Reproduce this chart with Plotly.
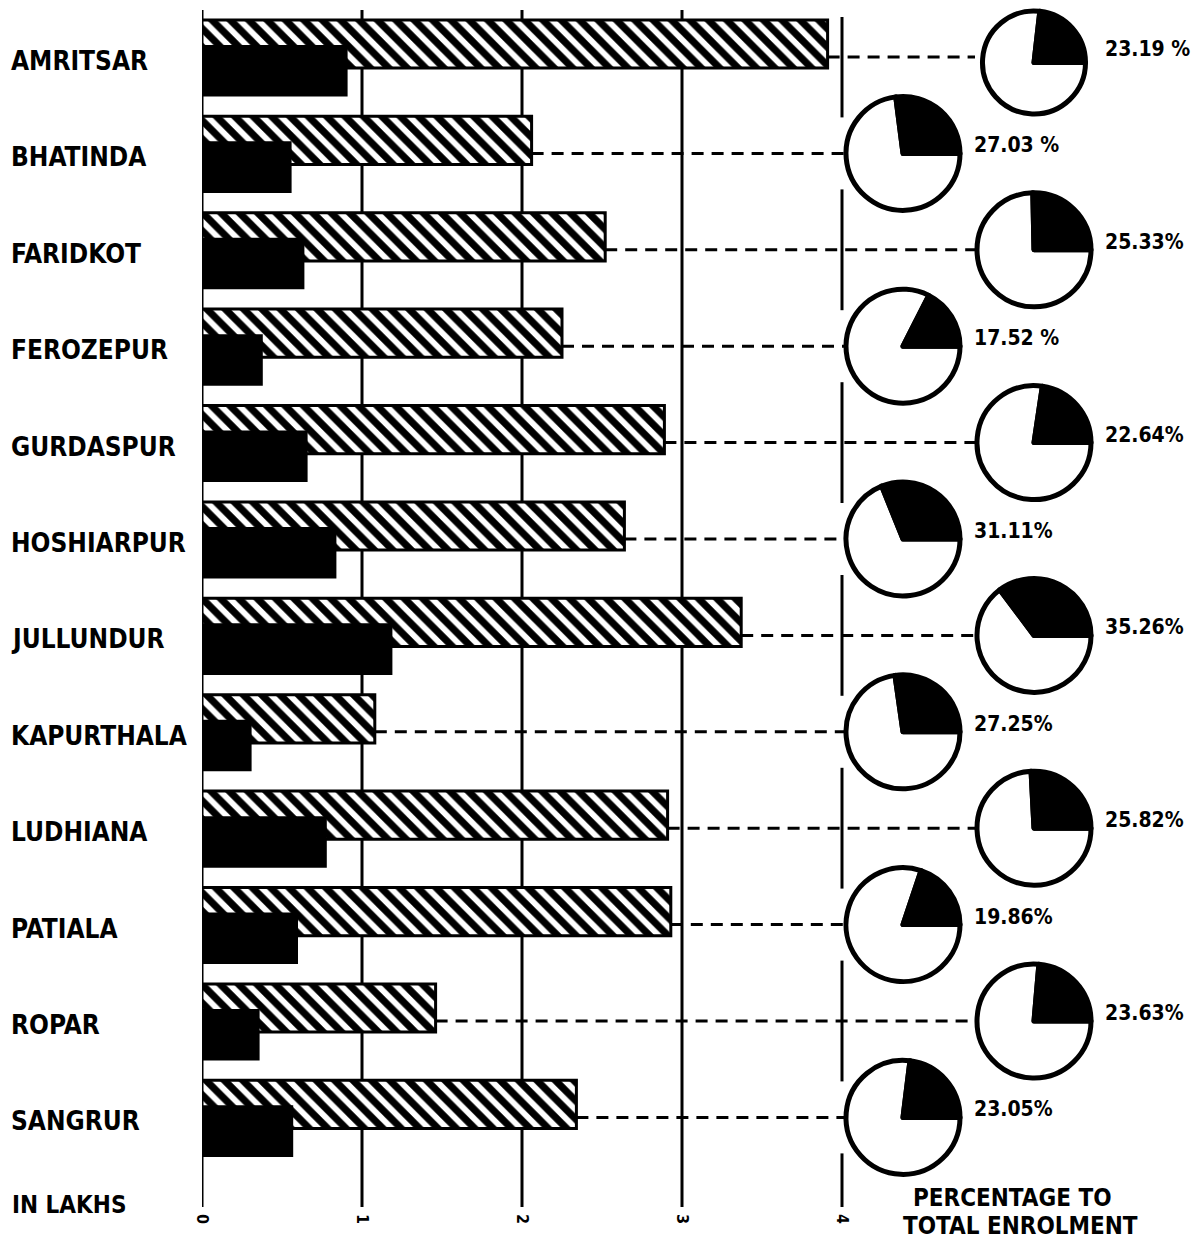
import plotly.graph_objects as go

# ---------------- data ----------------
districts = ["AMRITSAR", "BHATINDA", "FARIDKOT", "FEROZEPUR", "GURDASPUR", "HOSHIARPUR",
             "JULLUNDUR", "KAPURTHALA", "LUDHIANA", "PATIALA", "ROPAR", "SANGRUR"]
total_enrolment = [3.91, 2.06, 2.52, 2.25, 2.89, 2.64, 3.37, 1.08, 2.91, 2.93, 1.46, 2.34]
girls_enrolment = [0.91, 0.56, 0.64, 0.38, 0.66, 0.84, 1.19, 0.31, 0.78, 0.60, 0.36, 0.57]
percent_girls = [23.19, 27.03, 25.33, 17.52, 22.64, 31.11, 35.26, 27.25, 25.82, 19.86, 23.63, 23.05]
percent_text = ["23.19 %", "27.03 %", "25.33%", "17.52 %", "22.64%", "31.11%",
                "35.26%", "27.25%", "25.82%", "19.86%", "23.63%", "23.05%"]
tick_vals = [0, 1, 2, 3, 4]
tick_text = ["0", "1", "2", "3", "4"]
unit_label = "IN LAKHS"
pie_title = ["PERCENTAGE TO", "TOTAL ENROLMENT"]

# ---------------- layout constants (window px, page body has an 8px margin) ----------------
OFF = 8
W, H = 1201 - 2 * OFF, 1249 - 2 * OFF
FONT = "Liberation Sans Narrow, DejaVu Sans Condensed, Arial Narrow, sans-serif"
X0_PX, PX_PER_UNIT = 202, 160.0
TOP_PX, BOT_PX = 10, 1207
ROW0_PX, ROW_PX = 57, 96.4
y_top = -(ROW0_PX - TOP_PX) / ROW_PX
y_bot = y_top + (BOT_PX - TOP_PX) / ROW_PX
x_max = (W + OFF - X0_PX) / PX_PER_UNIT
PIE_R = 57
PIE_CX = [1034, 903]   # right column, left column
SAFE = 3               # keep pie outlines inside the figure


def fx(px):   # window px -> paper x
    return min(1.0, max(0.0, (px - OFF) / W))


def fy(py):   # window px -> paper y
    return min(1.0, max(0.0, 1 - (py - OFF) / H))


def row_px(i):
    return TOP_PX + (i - y_top) * ROW_PX


def px_to_x(px):
    return (px - X0_PX) / PX_PER_UNIT


fig = go.Figure()
n = len(districts)
rows = list(range(n))

# hatched bars (total enrolment)
fig.add_trace(go.Bar(
    y=rows, x=total_enrolment, orientation="h",
    offset=-0.385, width=0.50,
    marker=dict(color="white", line=dict(color="black", width=3),
                pattern=dict(shape="\\", fgcolor="black", bgcolor="white", fgopacity=1,
                             size=13, solidity=0.55)),
    hoverinfo="skip", showlegend=False))

# black bars (girls)
fig.add_trace(go.Bar(
    y=rows, x=girls_enrolment, orientation="h",
    offset=-0.125, width=0.535,
    marker=dict(color="black", line=dict(color="black", width=0)),
    hoverinfo="skip", showlegend=False))

# dashed connectors
dx, dy = [], []
for i in rows:
    cx = PIE_CX[i % 2]
    dx += [total_enrolment[i], px_to_x(cx - PIE_R - 2), None]
    dy += [i, i, None]
fig.add_trace(go.Scatter(x=dx, y=dy, mode="lines",
                         line=dict(color="black", width=3, dash="12px,8px"),
                         hoverinfo="skip", showlegend=False))

# pies: black share sweeps counter-clockwise from 3 o'clock
for i in rows:
    cx = PIE_CX[i % 2]
    cy = row_px(i)
    top = max(cy - PIE_R, OFF + SAFE)
    bot = cy + PIE_R
    half = (bot - top) / 2
    fig.add_trace(go.Pie(
        values=[100 - percent_girls[i], percent_girls[i]],
        sort=False, direction="clockwise", rotation=90,
        marker=dict(colors=["white", "black"], line=dict(color="black", width=5)),
        textinfo="none", hoverinfo="skip", showlegend=False,
        domain=dict(x=[fx(cx - half), fx(cx + half)],
                    y=[fy(bot), fy(top)])))

# vertical lines
shapes = []
for v in tick_vals[:-1]:
    shapes.append(dict(type="line", xref="x", yref="y", x0=v, x1=v, y0=y_top, y1=y_bot,
                       line=dict(color="black", width=3), layer="below"))
# last line broken around the left-column pies
gap = 36 / ROW_PX
segs = [y_top + 7 / ROW_PX]
for i in rows:
    if i % 2 == 1:
        segs += [i - gap, i + gap]
segs.append(y_bot)
for k in range(0, len(segs), 2):
    shapes.append(dict(type="line", xref="x", yref="y", x0=tick_vals[-1], x1=tick_vals[-1],
                       y0=segs[k], y1=segs[k + 1],
                       line=dict(color="black", width=3), layer="below"))

annotations = []
for i in rows:
    annotations.append(dict(x=fx(9), xref="paper", y=i, yref="y", yshift=-4,
                            text=districts[i], showarrow=False, xanchor="left",
                            font=dict(family=FONT, size=26, color="black", weight="bold")))
    cx = PIE_CX[i % 2]
    annotations.append(dict(x=fx(cx + PIE_R + 12), xref="paper", y=i, yref="y", yshift=8,
                            text=percent_text[i], showarrow=False, xanchor="left",
                            font=dict(family=FONT, size=21, color="black", weight="bold")))

annotations.append(dict(x=fx(10), xref="paper", y=fy(1205), yref="paper",
                        text=unit_label, showarrow=False, xanchor="left", yanchor="middle",
                        font=dict(family=FONT, size=24, color="black", weight="bold")))
annotations.append(dict(x=fx(1012), xref="paper", y=fy(1198), yref="paper",
                        text=pie_title[0], showarrow=False, xanchor="center", yanchor="middle",
                        font=dict(family=FONT, size=24, color="black", weight="bold")))
annotations.append(dict(x=fx(1020), xref="paper", y=fy(1226), yref="paper",
                        text=pie_title[1], showarrow=False, xanchor="center", yanchor="middle",
                        font=dict(family=FONT, size=24, color="black", weight="bold")))

fig.update_layout(
    width=W, height=H, autosize=False,
    margin=dict(l=0, r=0, t=0, b=0, pad=0, autoexpand=False),
    paper_bgcolor="white", plot_bgcolor="white",
    barmode="overlay",
    shapes=shapes, annotations=annotations,
    xaxis=dict(domain=[fx(X0_PX), 1], range=[0, x_max], automargin=False,
               tickvals=tick_vals, ticktext=tick_text, tickangle=90,
               ticklabelstandoff=6,
               showgrid=False, zeroline=False, showline=False, ticks="",
               tickfont=dict(family=FONT, size=16, color="black", weight="bold"),
               fixedrange=True),
    yaxis=dict(domain=[fy(BOT_PX), fy(TOP_PX)], range=[y_bot, y_top], automargin=False,
               showticklabels=False, showgrid=False, zeroline=False, showline=False,
               fixedrange=True),
)

fig.write_html("out.html")
